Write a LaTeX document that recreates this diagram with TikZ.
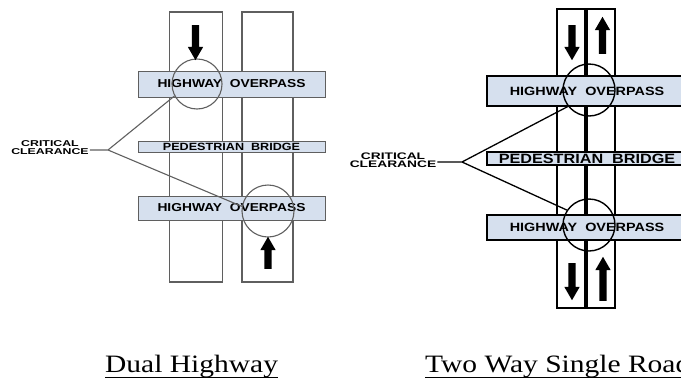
\documentclass[tikz,border=0pt]{standalone}
\usepackage{fontspec}
\setmainfont{Liberation Serif}
\newfontfamily\capfont[FakeStretch=1.18]{Liberation Serif}
\newfontfamily\signfont[FakeStretch=1.2]{Liberation Sans}
\newfontfamily\widesign[FakeStretch=1.45]{Liberation Sans}
\usepackage{tikz}
\usetikzlibrary{arrows.meta,positioning,calc,shapes.arrows}
\definecolor{barblue}{RGB}{214,224,238}
\definecolor{linegray}{RGB}{95,95,95}

\begin{document}
\begin{tikzpicture}[x=1pt,y=-1pt,
  laneL/.style={draw=linegray,line width=1.2pt,fill=white,inner sep=0pt,minimum height=270pt},
  roadR/.style={draw,line width=1.8pt,fill=white,inner sep=0pt},
  barL/.style={draw=linegray,line width=1pt,fill=barblue,inner sep=0pt,minimum width=187pt},
  barR/.style={draw,line width=1.5pt,fill=barblue,inner sep=0pt,minimum width=200pt},
  overL/.style={font=\signfont\bfseries\fontsize{11.5}{11}\selectfont},
  overR/.style={font=\signfont\bfseries\fontsize{12}{12}\selectfont},
  walkL/.style={font=\signfont\bfseries\fontsize{10.5}{10}\selectfont},
  walkR/.style={font=\signfont\bfseries\fontsize{13.5}{13}\selectfont},
  ring/.style={circle,draw,inner sep=0pt,minimum size=#1},
  crit/.style={align=center,inner sep=1pt},
  lanearrow/.style={single arrow,fill=black,draw=none,inner xsep=0pt,inner ysep=3.5pt,
    single arrow head extend=4pt,single arrow tip angle=60,single arrow head indent=0pt},
  caption/.style={font=\capfont\fontsize{25}{28}\selectfont,inner sep=0pt,anchor=base west}
]
\useasboundingbox (0,0) rectangle (681,381);
\clip (0,0) rectangle (681,381);

% dual highway
\node[laneL,minimum width=53pt] (laneA) at (196,147) {};
\node[laneL,minimum width=51pt] (laneB) at (267.5,147) {};

\node[barL,minimum height=26pt,overL] (ovTopL) at (231.5,84) {HIGHWAY\ \ OVERPASS};
\node[barL,minimum height=11pt,walkL] (walkBrL) at (231.5,146.5) {PEDESTRIAN\ \ BRIDGE};
\node[barL,minimum height=24pt,overL] (ovBotL) at (231.5,208) {HIGHWAY\ \ OVERPASS};

\node[ring=50pt,draw=linegray,line width=1.1pt] (clrTopL) at (197,84) {};
\node[ring=52pt,draw=linegray,line width=1.1pt] (clrBotL) at (268,211) {};

\node[lanearrow,minimum height=35pt,rotate=-90] (dnL) at (195.5,39.5) {};
\node[lanearrow,minimum height=32pt,rotate=90] (upL) at (268,256) {};

\node[crit,font=\widesign\bfseries\fontsize{8.5}{8}\selectfont] (critL) at (50,148) {CRITICAL\\CLEARANCE};
\coordinate (forkL) at (108,150);
\draw[linegray,line width=1.1pt] (forkL -| critL.east) -- (forkL) -- (clrTopL.208)
  (forkL) -- (clrBotL.170);

% two way single road
\node[roadR,minimum width=58pt,minimum height=299pt] (roadR) at (586,158.5) {};
\draw[line width=3.2pt] (roadR.north) -- (roadR.south);

\node[barR,minimum height=30pt,overR] (ovTopR) at (587,91) {HIGHWAY\ \ OVERPASS};
\node[barR,minimum height=13pt,walkR] (walkBrR) at (587,158.5) {PEDESTRIAN\ \ BRIDGE};
\node[barR,minimum height=25pt,overR] (ovBotR) at (587,227.5) {HIGHWAY\ \ OVERPASS};

\node[ring=52pt,line width=1.4pt] (clrTopR) at (589,90) {};
\node[ring=52pt,line width=1.4pt] (clrBotR) at (589,225) {};

\node[lanearrow,minimum height=35pt,rotate=-90] (dnTopR) at (572,39.5) {};
\node[lanearrow,minimum height=37pt,rotate=90] (upTopR) at (602.5,38.5) {};
\node[lanearrow,minimum height=37pt,rotate=-90] (dnBotR) at (572,278.5) {};
\node[lanearrow,minimum height=44pt,rotate=90] (upBotR) at (603,282) {};

\node[crit,font=\widesign\bfseries\fontsize{9.5}{8.5}\selectfont] (critR) at (393,160) {CRITICAL\\CLEARANCE};
\coordinate (forkR) at (462,162);
\draw[line width=1.3pt] (forkR -| critR.east) -- (forkR) -- (clrTopR.218)
  (forkR) -- (clrBotR.146);

% captions
\node[caption] (capL) at (105,372) {Dual Highway};
\node[caption] (capR) at (425,372) {Two Way Single Road};
\draw[line width=1pt] ([yshift=-5pt]capL.base west) -- ([yshift=-5pt]capL.base east);
\draw[line width=1pt] ([yshift=-5pt]capR.base west) -- ([yshift=-5pt]capR.base east);

\end{tikzpicture}
\end{document}
